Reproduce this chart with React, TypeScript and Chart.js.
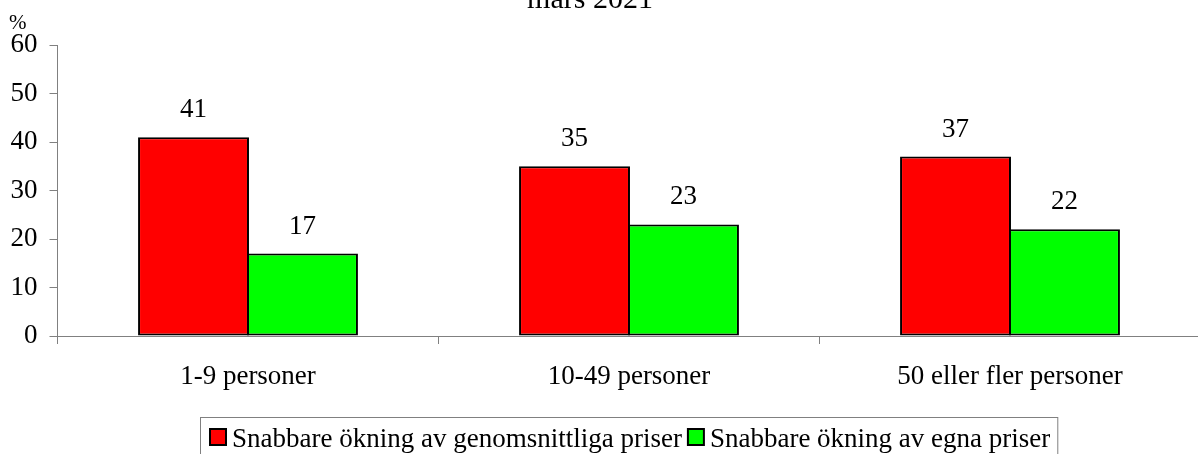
import React, { useEffect, useRef } from "react";
import { Chart, registerables } from "chart.js";

Chart.register(...registerables);

// ---- data ----
const categories = ["1-9 personer", "10-49 personer", "50 eller fler personer"];
const seriesNames = [
  "Snabbare ökning av genomsnittliga priser",
  "Snabbare ökning av egna priser",
];
const averagePrices = [41, 35, 37];
const ownPrices = [17, 23, 22];
const yTickValues = [0, 10, 20, 30, 40, 50, 60];
const titleText = "mars 2021";
const unitLabel = "%";

// ---- styles ----
const FONT = "'Liberation Serif', 'Times New Roman', serif";
const AXIS = "#808080";
const RED = "#FF0000";
const GREEN = "#00FF00";
const TICK_SIZE = 27;
const LEGEND_SIZE = 27;
const TITLE_SIZE = 30;
const OFFSET_TOP = 40; // canvas shifted up so the title is cropped

const extrasPlugin = {
  id: "extras",
  afterDatasetsDraw(chart: any) {
    const ctx = chart.ctx;
    ctx.save();
    ctx.font = `${TICK_SIZE}px ${FONT}`;
    ctx.fillStyle = "#000";
    ctx.textAlign = "center";
    ctx.textBaseline = "alphabetic";
    chart.data.datasets.forEach((ds: any, i: number) => {
      const meta = chart.getDatasetMeta(i);
      meta.data.forEach((bar: any, j: number) => {
        ctx.fillText(String(ds.data[j]), bar.x, bar.y - 20);
      });
    });
    ctx.restore();
  },
  afterDraw(chart: any) {
    const ctx = chart.ctx;
    const area = chart.chartArea;
    ctx.save();
    ctx.fillStyle = "#000";

    // title (partly cropped at the top of the picture)
    ctx.font = `${TITLE_SIZE}px ${FONT}`;
    ctx.textAlign = "center";
    ctx.textBaseline = "alphabetic";
    ctx.fillText(titleText, 590, OFFSET_TOP + 7.5);

    // unit label
    ctx.font = `${TICK_SIZE - 6}px ${FONT}`;
    ctx.textAlign = "left";
    ctx.textBaseline = "middle";
    ctx.fillText(unitLabel, 9, area.top - 22);

    // legend
    ctx.font = `${LEGEND_SIZE}px ${FONT}`;
    const left = 200;
    const top = OFFSET_TOP + 417;
    const pad = 9;
    const box = 18;
    const gap = 5;
    const itemGap = 5;
    const boxTop = top + 11;
    const baseline = top + 30;
    let x = left + pad;
    const items = chart.data.datasets.map((ds: any) => ({
      label: ds.label,
      color: ds.backgroundColor,
    }));
    let total = pad;
    items.forEach((it: any, i: number) => {
      total += box + gap + ctx.measureText(it.label).width + (i < items.length - 1 ? itemGap : 0);
    });
    total += 7;
    ctx.strokeStyle = AXIS;
    ctx.lineWidth = 1;
    ctx.strokeRect(left + 0.5, top + 0.5, total, 70);
    items.forEach((it: any) => {
      ctx.fillStyle = "#000";
      ctx.fillRect(x, boxTop, box, box);
      ctx.fillStyle = it.color;
      ctx.fillRect(x + 2, boxTop + 2, box - 4, box - 4);
      x += box + gap;
      ctx.fillStyle = "#000";
      ctx.textAlign = "left";
      ctx.textBaseline = "alphabetic";
      ctx.fillText(it.label, x, baseline);
      x += ctx.measureText(it.label).width + itemGap;
    });
    ctx.restore();
  },
};

export default function App() {
  const ref = useRef<HTMLCanvasElement | null>(null);

  useEffect(() => {
    if (!ref.current) return;
    const chart = new Chart(ref.current, {
      type: "bar",
      data: {
        labels: categories,
        datasets: [
          {
            label: seriesNames[0],
            data: averagePrices,
            backgroundColor: RED,
            borderColor: "#000",
            borderWidth: 2,
            borderSkipped: false,
          },
          {
            label: seriesNames[1],
            data: ownPrices,
            backgroundColor: GREEN,
            borderColor: "#000",
            borderWidth: 2,
            borderSkipped: false,
          },
        ],
      },
      options: {
        responsive: false,
        animation: false,
        devicePixelRatio: 1,
        layout: { padding: { top: 85, left: 0, right: 1.5, bottom: 64 } },
        datasets: {
          bar: { categoryPercentage: 0.572, barPercentage: 1.018 },
        },
        plugins: {
          legend: { display: false },
          tooltip: { enabled: false },
          title: { display: false },
        },
        scales: {
          x: {
            offset: true,
            grid: {
              offset: true,
              drawOnChartArea: false,
              drawTicks: true,
              tickLength: 8,
              color: AXIS,
              lineWidth: 1,
            },
            border: { display: true, color: AXIS, width: 1 },
            ticks: {
              color: "#000",
              font: { family: FONT, size: TICK_SIZE },
              padding: 17,
              maxRotation: 0,
              autoSkip: false,
            },
            afterFit: (s: any) => {
              s.height = 70;
            },
          },
          y: {
            min: 0,
            max: 60,
            afterBuildTicks: (s: any) => {
              s.ticks = yTickValues.map((v) => ({ value: v }));
            },
            grid: {
              drawOnChartArea: false,
              drawTicks: true,
              tickLength: 8,
              color: AXIS,
              lineWidth: 1,
            },
            border: { display: true, color: AXIS, width: 1 },
            ticks: {
              color: "#000",
              font: { family: FONT, size: TICK_SIZE },
              padding: 12,
            },
            afterFit: (s: any) => {
              s.width = 57.5;
            },
          },
        },
      },
      plugins: [extrasPlugin],
    });
    return () => chart.destroy();
  }, []);

  return (
    <div style={{ position: "fixed", left: 0, top: 0, right: 0, bottom: 0, overflow: "hidden", background: "#fff" }}>
      <div style={{ position: "absolute", left: 0, top: -OFFSET_TOP }}>
        <canvas ref={ref} width={1202} height={510} style={{ display: "block" }} />
      </div>
    </div>
  );
}
